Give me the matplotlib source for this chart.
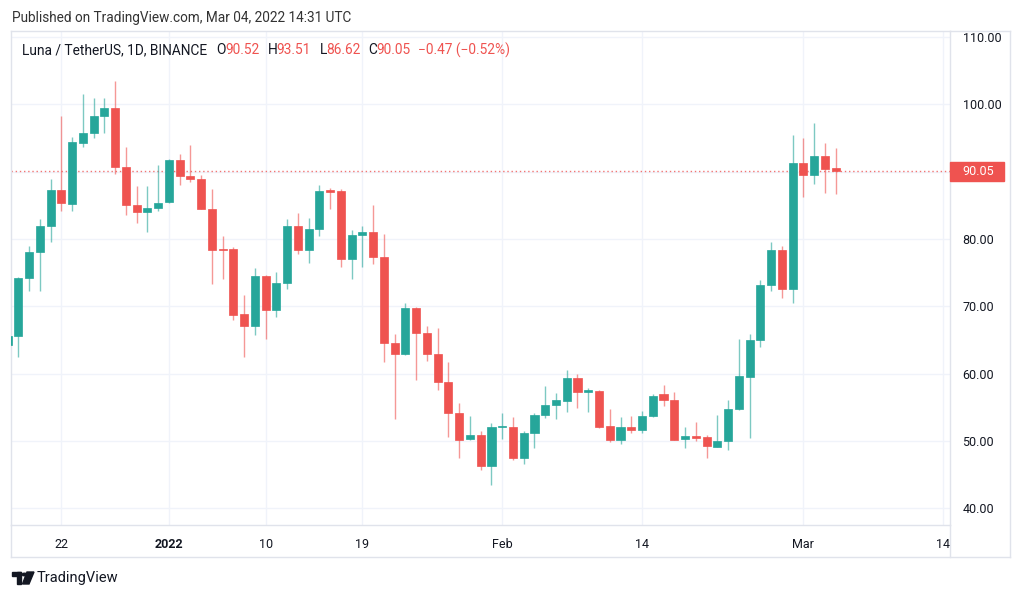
import matplotlib
matplotlib.use('Agg')
import matplotlib.pyplot as plt
import matplotlib.dates as mdates
import matplotlib.transforms as mtransforms
from matplotlib.patches import Rectangle, Circle, Polygon
from matplotlib.lines import Line2D
import pandas as pd

plt.rcParams['font.family'] = ['Roboto', 'DejaVu Sans']

# Luna / TetherUS daily candles, Dec 17 2021 .. Mar 04 2022
dates = pd.date_range('2021-12-17', periods=78, freq='D')
opens = [64.3, 65.6, 74.2, 78.1, 82.0, 87.3, 85.2, 94.3, 95.7, 98.2,
         99.5, 90.7, 85.0, 84.0, 84.65, 85.45, 91.7, 89.35, 88.9, 84.5,
         78.5, 78.5, 68.8, 67.0, 74.5, 69.4, 73.4, 81.9, 78.3, 81.5,
         87.2, 87.1, 77.0, 80.6, 81.0, 77.3, 64.6, 62.9, 69.7, 66.0,
         62.9, 58.8, 54.1, 50.25, 50.85, 46.2, 52.05, 52.1, 47.4, 51.1,
         53.8, 55.3, 55.95, 59.3, 57.2, 57.4, 52.2, 50.2, 52.1, 51.6,
         53.7, 56.9, 56.1, 50.35, 50.7, 50.55, 49.15, 50.05, 54.7, 59.5,
         65.05, 73.1, 78.3, 72.6, 91.3, 89.55, 92.3, 90.52]
highs = [66.3, 74.4, 79.0, 82.9, 88.9, 98.2, 95.2, 101.5, 100.9, 100.9,
         103.5, 93.7, 87.9, 87.9, 91.0, 91.9, 92.6, 93.9, 89.5, 87.4,
         80.4, 78.8, 71.7, 75.7, 74.7, 75.1, 83.0, 83.9, 83.1, 88.0,
         87.6, 87.35, 81.4, 82.0, 85.0, 80.8, 65.9, 70.5, 69.9, 67.1,
         66.7, 61.7, 55.7, 53.7, 51.4, 52.7, 54.2, 53.5, 51.5, 54.2,
         58.1, 57.1, 60.6, 59.9, 57.9, 57.6, 54.8, 53.6, 53.7, 54.5,
         57.0, 58.3, 57.2, 52.0, 52.8, 50.8, 53.9, 56.1, 65.2, 65.9,
         73.9, 79.6, 79.0, 95.4, 95.0, 97.3, 94.3, 93.51]
lows = [63.8, 62.4, 72.2, 72.2, 79.6, 84.2, 84.2, 93.7, 95.0, 95.8,
        89.6, 83.5, 82.4, 81.1, 84.2, 85.3, 88.0, 88.5, 84.4, 73.3,
        74.0, 68.0, 62.5, 65.7, 65.1, 68.4, 72.5, 77.8, 76.4, 80.4,
        84.5, 75.9, 74.0, 75.8, 76.3, 61.7, 53.2, 62.7, 59.1, 61.8,
        57.6, 50.6, 47.5, 50.1, 45.6, 43.4, 50.35, 47.2, 46.6, 49.0,
        53.4, 53.2, 54.3, 54.9, 54.3, 51.9, 49.85, 49.5, 51.1, 51.2,
        53.6, 55.2, 50.1, 48.9, 50.05, 47.4, 49.1, 48.6, 54.6, 50.4,
        64.0, 72.2, 71.3, 70.5, 86.2, 88.2, 86.8, 86.62]
closes = [65.6, 74.2, 78.1, 82.0, 87.3, 85.3, 94.4, 95.7, 98.2, 99.5,
          90.7, 85.0, 84.0, 84.65, 85.4, 91.7, 89.35, 88.9, 84.5, 78.4,
          78.4, 68.7, 67.0, 74.5, 69.4, 73.4, 81.9, 78.3, 81.5, 87.2,
          87.05, 77.0, 80.65, 81.0, 77.3, 64.6, 62.9, 69.7, 66.0, 62.9,
          58.8, 54.1, 50.2, 50.85, 46.2, 52.1, 52.15, 47.5, 51.1, 53.8,
          55.4, 56.0, 59.3, 57.2, 57.5, 52.0, 50.2, 52.1, 51.6, 53.7,
          56.7, 56.1, 50.15, 50.75, 50.45, 49.3, 50.05, 54.7, 59.6, 65.0,
          73.2, 78.3, 72.6, 91.3, 89.55, 92.3, 90.4, 90.05]

last_price = 90.05
tick_dates = ['2021-12-22', '2022-01-01', '2022-01-10', '2022-01-19',
              '2022-02-01', '2022-02-14', '2022-03-01', '2022-03-14']
tick_labels = ['22', '2022', '10', '19', 'Feb', '14', 'Mar', '14']
price_ticks = [40, 50, 60, 70, 80, 90, 100, 110]

UP = '#26a69a'
DOWN = '#ef5350'
GRID = '#f0f3fa'
BORDER = '#e0e3eb'
TXT = '#131722'

W, H = 1024, 598
fig = plt.figure(figsize=(W / 100, H / 100), dpi=100)
fig.patch.set_facecolor('white')


def fx(px):
    return px / W


def fy(py):
    return 1 - py / H


# plot area in pixels: x 11..950, y 31..525
L, R, T, B = 11, 950, 31, 525
ax = fig.add_axes([fx(L), fy(B), fx(R - L), (B - T) / H])

x = mdates.date2num(dates)
for xi, o, h, l, c in zip(x, opens, highs, lows, closes):
    col = UP if c >= o else DOWN
    ax.vlines(xi, l, h, color=col, lw=1, alpha=0.6, zorder=3)
    ax.bar(xi, max(abs(c - o), 0.18), width=0.75, bottom=min(o, c),
           color=col, edgecolor=col, linewidth=0.5, zorder=4)

ax.axhline(last_price, color=DOWN, lw=1, ls=(0, (1, 2)), alpha=0.8, zorder=2)

ax.set_xlim(x[0] + 0.32, x[0] + 87.64)
ax.set_ylim(37.5, 110.9)

ax.set_xticks(mdates.date2num(pd.to_datetime(tick_dates)))
ax.set_xticklabels(tick_labels)
ax.get_xticklabels()[1].set_fontweight('bold')
ax.set_yticks(price_ticks)
ax.set_yticklabels(['' if p == 90 else f'{p:.2f}' for p in price_ticks])
ax.yaxis.tick_right()
ax.tick_params(axis='x', length=0, pad=9, labelsize=9, labelcolor=TXT)
ax.tick_params(axis='y', length=0, pad=9, labelsize=9, labelcolor=TXT)
ax.grid(True, color=GRID, lw=1, zorder=0)
ax.set_axisbelow(True)
for s in ax.spines.values():
    s.set_color(BORDER)
    s.set_linewidth(1)

# last price label on the price scale
blend = mtransforms.blended_transform_factory(ax.transAxes, ax.transData)
ax.add_patch(Rectangle((1.0, last_price - 1.4), 54 / (R - L), 2.8,
                       transform=blend, color=DOWN, clip_on=False, zorder=5))
ax.text(1 + 12 / (R - L), last_price, f'{last_price:.2f}', transform=blend,
        color='white', fontsize=9, va='center', ha='left', zorder=6)

# outer frame around price and time scales
for (x0, y0, x1, y1) in [(R, T, 1010, T), (1010, T, 1010, 557),
                         (L, 557, 1010, 557), (L, B, L, 557), (R, B, R, 557)]:
    fig.add_artist(Line2D([fx(x0), fx(x1)], [fy(y0), fy(y1)],
                          color=BORDER, lw=1))

# header texts
fig.text(fx(12), fy(18), 'Published on TradingView.com, Mar 04, 2022 14:31 UTC',
         fontsize=9.8, color='#333333', va='center', ha='left')
legend_parts = [(21.5, 'Luna / TetherUS, 1D, BINANCE', TXT),
                (216.5, 'O', TXT), (225, '90.52', DOWN),
                (268, 'H', TXT), (276, '93.51', DOWN),
                (319.5, 'L', TXT), (326, '86.62', DOWN),
                (368, 'C', TXT), (376, '90.05', DOWN),
                (418, '\u22120.47 (\u22120.52%)', DOWN)]
for px, s, col in legend_parts:
    fig.text(fx(px), fy(50), s, fontsize=9.9, color=col, va='center', ha='left')

# TradingView logo at the bottom
logo = [Rectangle((fx(12), fy(576)), fx(9), 4 / H),
        Rectangle((fx(17), fy(584)), fx(4), 12 / H),
        Circle((fx(24.5), fy(574.5)), 2.2 / W),
        Polygon([(fx(27), fy(572)), (fx(34), fy(572)),
                 (fx(29), fy(584)), (fx(22.5), fy(584))])]
for p in logo:
    p.set_color(TXT)
    p.set_transform(fig.transFigure)
    fig.add_artist(p)
fig.text(fx(37), fy(578), 'TradingView', fontsize=10.5, color=TXT,
         va='center', ha='left')

fig.savefig('out.png', dpi=100, facecolor='white')
